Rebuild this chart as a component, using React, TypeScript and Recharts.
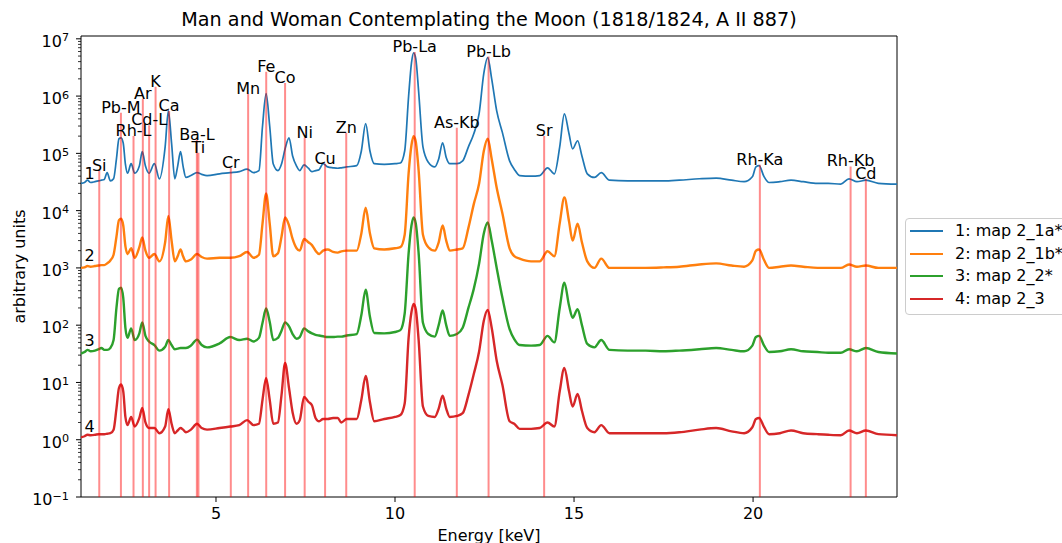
import React from 'react';
import { LineChart, Line, XAxis, YAxis, ReferenceLine, ReferenceDot, ReferenceArea } from 'recharts';

// Energy grid [keV]
const energies = [
  1.23, 1.33, 1.41, 1.5, 1.62, 1.72, 1.8, 1.88, 1.96, 2.05, 2.14, 2.22, 2.29, 2.35, 2.41, 2.47, 2.53,
  2.63, 2.73, 2.86, 2.94, 3.03, 3.13, 3.28, 3.42, 3.58, 3.67, 3.76, 3.85, 3.93, 4.01, 4.08, 4.16,
  4.3, 4.47, 4.6, 4.75, 5.1, 5.4, 5.65, 5.87, 6.05, 6.2, 6.3, 6.4, 6.5, 6.6, 6.73, 6.83, 6.93,
  7.04, 7.14, 7.25, 7.34, 7.46, 7.58, 7.68, 7.78, 7.88, 7.99, 8.12, 8.27, 8.4, 8.5, 8.65, 8.93,
  9.06, 9.18, 9.3, 9.42, 9.7, 10.0, 10.15, 10.27, 10.38, 10.46, 10.52, 10.58, 10.66, 10.78, 10.93,
  11.11, 11.22, 11.33, 11.43, 11.53, 11.73, 11.89, 12.05, 12.2, 12.35, 12.48, 12.59, 12.7, 12.84,
  13.0, 13.2, 13.33, 13.48, 13.8, 14.04, 14.26, 14.45, 14.6, 14.73, 14.86, 14.96, 15.1, 15.22,
  15.37, 15.57, 15.76, 15.99, 16.5, 17.0, 17.5, 17.94, 18.5, 18.97, 19.4, 19.75, 19.98, 20.08,
  20.17, 20.3, 20.45, 20.75, 21.06, 21.4, 21.8, 22.1, 22.45, 22.68, 22.9, 23.15, 23.5, 24.02,
];

// 1: map 2_1a*
const map1a = [
  3.0e4, 3.1e4, 3.4e4, 3.1e4, 3.2e4, 3.3e4, 3.4e4, 3.5e4, 4.6e4, 3.3e4, 3.6e4, 8.0e4, 1.8e5, 1.87e5, 1.5e5, 6.5e4, 4.5e4,
  6.6e4, 4.5e4, 6.0e4, 1.07e5, 6.0e4, 4.5e4, 6.6e4, 3.6e4, 1.3e5, 5.5e5, 1.5e5, 3.6e4, 6.0e4, 1.07e5, 6.0e4, 3.8e4,
  4.1e4, 4.6e4, 4.3e4, 4.1e4, 4.4e4, 4.6e4, 4.8e4, 5.3e4, 4.6e4, 5.0e4, 3.0e5, 1.1e6, 3.0e5, 6.5e4, 5.0e4, 6.5e4, 1.2e5,
  1.87e5, 9.0e4, 6.0e4, 5.0e4, 6.3e4, 5.5e4, 4.8e4, 5.0e4, 5.2e4, 6.6e4, 5.8e4, 5.6e4, 5.5e4, 5.6e4, 5.8e4, 6.1e4,
  1.1e5, 3.3e5, 1.1e5, 6.6e4, 6.4e4, 6.6e4, 6.8e4, 1.1e5, 1.0e6, 3.8e6, 5.7e6, 4.5e6, 1.2e6, 1.3e5, 7.0e4,
  5.8e4, 8.0e4, 1.53e5, 8.5e4, 6.6e4, 6.6e4, 7.4e4, 1.3e5, 2.2e5, 5.0e5, 2.5e6, 4.7e6, 2.0e6, 5.5e5,
  2.3e5, 7.4e4, 5.3e4, 4.1e4, 4.0e4, 4.1e4, 5.6e4, 4.4e4, 1.3e5, 4.9e5, 2.2e5, 1.2e5, 1.66e5, 9.0e4,
  4.4e4, 3.8e4, 4.6e4, 3.4e4, 3.3e4, 3.3e4, 3.3e4, 3.4e4, 3.6e4, 3.7e4, 3.4e4, 3.2e4, 3.9e4, 5.8e4,
  6.1e4, 4.0e4, 3.1e4, 3.2e4, 3.4e4, 3.2e4, 3.0e4, 3.0e4, 2.9e4, 3.6e4, 3.2e4, 3.4e4, 3.0e4, 2.9e4,
];

// 2: map 2_1b*
const map1b = [
  1.0e3, 1.02e3, 1.08e3, 1.05e3, 1.08e3, 1.1e3, 1.12e3, 1.12e3, 1.2e3, 1.35e3, 1.7e3, 3.5e3, 6.8e3, 7.2e3, 5.5e3, 2.4e3, 1.75e3,
  2.2e3, 1.5e3, 2.3e3, 3.4e3, 2.0e3, 1.5e3, 1.75e3, 1.3e3, 2.8e3, 8.1e3, 3.0e3, 1.3e3, 1.6e3, 2.1e3, 1.6e3, 1.3e3,
  1.4e3, 1.75e3, 1.55e3, 1.45e3, 1.5e3, 1.5e3, 1.6e3, 1.9e3, 1.5e3, 1.7e3, 6.0e3, 2.0e4, 6.0e3, 1.6e3, 1.8e3, 3.5e3, 7.6e3,
  5.5e3, 3.2e3, 2.2e3, 2.0e3, 3.2e3, 2.8e3, 2.5e3, 2.0e3, 1.75e3, 2.0e3, 2.1e3, 1.9e3, 1.85e3, 1.95e3, 2.0e3, 2.0e3,
  4.0e3, 1.12e4, 4.0e3, 2.2e3, 2.1e3, 2.2e3, 2.3e3, 3.8e3, 4.5e4, 1.4e5, 2.0e5, 1.6e5, 5.0e4, 3.8e3, 2.3e3,
  2.0e3, 2.8e3, 5.5e3, 3.0e3, 2.0e3, 2.1e3, 2.2e3, 5.0e3, 1.3e4, 3.0e4, 1.1e5, 1.8e5, 8.0e4, 2.5e4,
  8.9e3, 2.2e3, 1.6e3, 1.45e3, 1.3e3, 1.3e3, 1.95e3, 1.6e3, 6.0e3, 1.7e4, 6.5e3, 3.0e3, 5.9e3, 2.8e3,
  1.3e3, 1.0e3, 1.45e3, 1.0e3, 1.0e3, 1.0e3, 1.02e3, 1.05e3, 1.15e3, 1.2e3, 1.1e3, 1.05e3, 1.35e3, 2.0e3,
  2.1e3, 1.4e3, 1.0e3, 1.05e3, 1.1e3, 1.05e3, 1.0e3, 1.0e3, 1.0e3, 1.15e3, 1.05e3, 1.1e3, 1.0e3, 1.0e3,
];

// 3: map 2_2*
const map2 = [
  32, 34, 37, 35, 36, 38, 40, 37, 37, 40, 55, 200, 430, 450, 300, 90, 60,
  88, 55, 72, 112, 65, 52, 45, 36, 42, 55, 45, 38, 39, 40, 40, 40,
  44, 56, 45, 41, 48, 62, 55, 58, 52, 60, 110, 195, 115, 55, 60, 80, 112,
  95, 70, 58, 62, 88, 78, 72, 68, 66, 64, 62, 62, 63, 63, 66, 70,
  150, 415, 140, 73, 72, 76, 82, 160, 1.8e3, 5.5e3, 7.6e3, 6.0e3, 1.8e3, 110, 70,
  63, 100, 180, 100, 65, 70, 90, 200, 430, 1.2e3, 4.0e3, 6.2e3, 3.0e3, 1.0e3,
  300, 85, 57, 45, 44, 45, 65, 50, 200, 550, 220, 135, 190, 100,
  47, 41, 55, 37, 36, 36, 35, 36, 38, 40, 37, 35, 44, 62,
  65, 45, 34, 35, 38, 35, 34, 33, 33, 38, 35, 40, 34, 32,
];

// 4: map 2_3
const map3 = [
  1.1, 1.15, 1.22, 1.2, 1.22, 1.25, 1.25, 1.25, 1.27, 1.3, 1.5, 3.5, 8.0, 9.2, 7.0, 2.5, 1.8,
  2.5, 1.7, 2.4, 3.6, 2.0, 1.6, 1.6, 1.3, 1.7, 3.4, 1.9, 1.3, 1.45, 1.6, 1.5, 1.35,
  1.5, 1.9, 1.6, 1.5, 1.6, 1.7, 1.8, 2.2, 1.8, 1.9, 5.0, 12, 5.0, 1.9, 2.0, 6, 22,
  8, 3, 1.9, 2.2, 5.6, 4.6, 4.0, 2.4, 2.1, 2.3, 2.3, 2.4, 2.4, 2.0, 2.3, 2.3,
  5.0, 13, 4.5, 2.1, 2.3, 2.5, 2.7, 4.3, 60, 170, 235, 190, 55, 3.8, 2.6,
  2.5, 3.5, 5.9, 3.5, 2.5, 2.6, 2.9, 6, 14, 35, 120, 185, 90, 24,
  9, 2.1, 1.9, 1.55, 1.55, 1.6, 2.0, 1.7, 7, 18, 7, 3.8, 6.3, 3.2,
  1.6, 1.35, 1.8, 1.3, 1.3, 1.3, 1.3, 1.35, 1.5, 1.6, 1.4, 1.3, 1.65, 2.3,
  2.4, 1.7, 1.25, 1.3, 1.45, 1.3, 1.25, 1.22, 1.2, 1.45, 1.3, 1.45, 1.25, 1.2,
];

const seriesKeys = ['s1', 's2', 's3', 's4'];
const seriesNames = ['1: map 2_1a*', '2: map 2_1b*', '3: map 2_2*', '4: map 2_3'];
const seriesColors = ['#1f77b4', '#ff7f0e', '#2ca02c', '#d62728'];
const seriesWidths = [1.7, 2.4, 2.4, 2.4];
const seriesTags = ['1', '2', '3', '4'];
const tagEnergy = 1.47;
const tagValues = [3.6e4, 1.34e3, 44, 1.38];

// element marker lines
const elementNames = ['Si', 'Pb-M', 'Rh-L', 'Ar', 'Cd-L', 'K', 'Ca', 'Ba-L', 'Ti', 'Cr', 'Mn', 'Fe', 'Co', 'Ni', 'Cu', 'Zn',
  'Pb-La', 'As-Kb', 'Pb-Lb', 'Sr', 'Rh-Ka', 'Rh-Kb', 'Cd'];
const elementEnergies = [1.74, 2.345, 2.697, 2.957, 3.133, 3.313, 3.691, 4.466, 4.51, 5.414, 5.898, 6.403, 6.93, 7.477, 8.047, 8.638,
  10.55, 11.726, 12.613, 14.165, 20.19, 22.724, 23.15];
const elementTops = [5.0e4, 5.1e5, 2.0e5, 9.0e5, 3.1e5, 1.45e6, 5.5e5, 1.73e5, 1.02e5, 5.6e4, 1.1e6, 2.65e6, 1.7e6, 1.87e5, 6.6e4, 2.3e5,
  5.9e6, 2.8e5, 4.9e6, 2.0e5, 6.3e4, 5.9e4, 3.6e4];

const xTicks = [5, 10, 15, 20];
const yDecades = [0.1, 1, 10, 100, 1e3, 1e4, 1e5, 1e6, 1e7];
const yDecadeLabels = ['\u22121', '0', '1', '2', '3', '4', '5', '6', '7'];
const xDomain = [1.23, 24.02];
const yDomain = [0.1, 1.12e7];

const minorMultipliers = [2, 3, 4, 5, 6, 7, 8, 9];
const yTicks = [
  ...yDecades,
  ...yDecades.slice(0, -1).flatMap((d) => minorMultipliers.map((m) => d * m)),
].sort((a, b) => a - b);

const data = energies.map((E, i) => ({ E, s1: map1a[i], s2: map1b[i], s3: map2[i], s4: map3[i] }));

const FONT = '"DejaVu Sans", sans-serif';

const YTick = (props: any) => {
  const { x, y, payload } = props;
  const v = payload.value;
  const idx = yDecades.findIndex((d) => Math.abs(Math.log10(d) - Math.log10(v)) < 1e-6);
  if (idx < 0) {
    return <line x1={x - 3} x2={x} y1={y} y2={y} stroke="#000" strokeWidth={0.8} />;
  }
  return (
    <g>
      <line x1={x - 5} x2={x} y1={y} y2={y} stroke="#000" strokeWidth={1} />
      <text x={x - 12} y={y + 8} textAnchor="end" fontSize={16} fill="#000" fontFamily={FONT}>
        10<tspan dy={-5.5} fontSize={11.2}>{yDecadeLabels[idx]}</tspan>
      </text>
    </g>
  );
};

const XTick = (props: any) => {
  const { x, y, payload } = props;
  return (
    <g>
      <line x1={x} x2={x} y1={y} y2={y + 5} stroke="#000" strokeWidth={1} />
      <text x={x} y={y + 22} textAnchor="middle" fontSize={16} fill="#000" fontFamily={FONT}>
        {payload.value}
      </text>
    </g>
  );
};

const XLabel = (props: any) => {
  const vb = props.viewBox;
  return (
    <text x={vb.x + vb.width / 2} y={vb.y + 44} textAnchor="middle" fontSize={16} fill="#000" fontFamily={FONT}>
      Energy [keV]
    </text>
  );
};

const YLabel = (props: any) => {
  const vb = props.viewBox;
  const cx = vb.x + 25;
  const cy = vb.y + vb.height / 2;
  return (
    <text x={cx} y={cy} transform={`rotate(-90 ${cx} ${cy})`} textAnchor="middle" fontSize={16} fill="#000" fontFamily={FONT}>
      arbitrary units
    </text>
  );
};

export default function App() {
  return (
    <div style={{ position: 'absolute', left: 0, top: 0, width: 1062, height: 543, overflow: 'hidden', background: '#fff', fontFamily: FONT, color: '#000' }}>
      <LineChart width={1062} height={543} data={data} margin={{ top: 36, right: 165, left: 0, bottom: 0 }}>
        <XAxis
          dataKey="E"
          type="number"
          domain={xDomain}
          allowDataOverflow
          ticks={xTicks}
          interval={0}
          tick={<XTick />}
          tickLine={false}
          axisLine={false}
          tickSize={0}
          tickMargin={0}
          height={46}
          label={XLabel}
        />
        <YAxis
          type="number"
          scale="log"
          domain={yDomain}
          allowDataOverflow
          ticks={yTicks}
          interval={0}
          tick={<YTick />}
          tickLine={false}
          axisLine={false}
          tickSize={0}
          tickMargin={0}
          width={81}
          label={YLabel}
        />
        {seriesKeys.map((k, i) => (
          <Line
            key={k}
            dataKey={k}
            type="monotone"
            stroke={seriesColors[i]}
            strokeWidth={seriesWidths[i]}
            dot={false}
            activeDot={false}
            isAnimationActive={false}
          />
        ))}
        {elementNames.map((n, i) => (
          <ReferenceLine
            key={n}
            segment={[{ x: elementEnergies[i], y: yDomain[0] }, { x: elementEnergies[i], y: elementTops[i] }]}
            stroke="rgba(255,0,0,0.45)"
            strokeWidth={2}
            ifOverflow="visible"
            label={{ value: n, position: 'top', offset: 0, fontSize: 16, fill: '#000', fontFamily: FONT }}
          />
        ))}
        {seriesTags.map((t, i) => (
          <ReferenceDot
            key={t}
            x={tagEnergy}
            y={tagValues[i]}
            r={0}
            fill="none"
            stroke="none"
            ifOverflow="visible"
            label={{ value: t, position: 'top', offset: 0, fontSize: 16, fill: '#000', fontFamily: FONT }}
          />
        ))}
        <ReferenceArea
          x1={xDomain[0]}
          x2={xDomain[1]}
          y1={yDomain[0]}
          y2={yDomain[1]}
          fill="none"
          fillOpacity={0}
          stroke="#000"
          strokeWidth={1}
          ifOverflow="visible"
        />
      </LineChart>
      <div style={{ position: 'absolute', left: 0, top: 10, width: 978, textAlign: 'center', fontSize: 19.2, lineHeight: '19.2px', whiteSpace: 'nowrap' }}>
        Man and Woman Contemplating the Moon (1818/1824, A II 887)
      </div>
      <div style={{ position: 'absolute', left: 905, top: 218, width: 180, height: 97, border: '1px solid #cccccc', borderRadius: 4, background: 'rgba(255,255,255,0.8)', boxSizing: 'border-box' }}>
        {seriesNames.map((n, i) => (
          <div key={n} style={{ position: 'absolute', left: 4, top: 1 + i * 22.7, height: 22, display: 'flex', alignItems: 'center', whiteSpace: 'nowrap' }}>
            <div style={{ width: 33, height: 2, background: seriesColors[i] }} />
            <span style={{ marginLeft: 12, fontSize: 16, lineHeight: '22px' }}>{n}</span>
          </div>
        ))}
      </div>
    </div>
  );
}
